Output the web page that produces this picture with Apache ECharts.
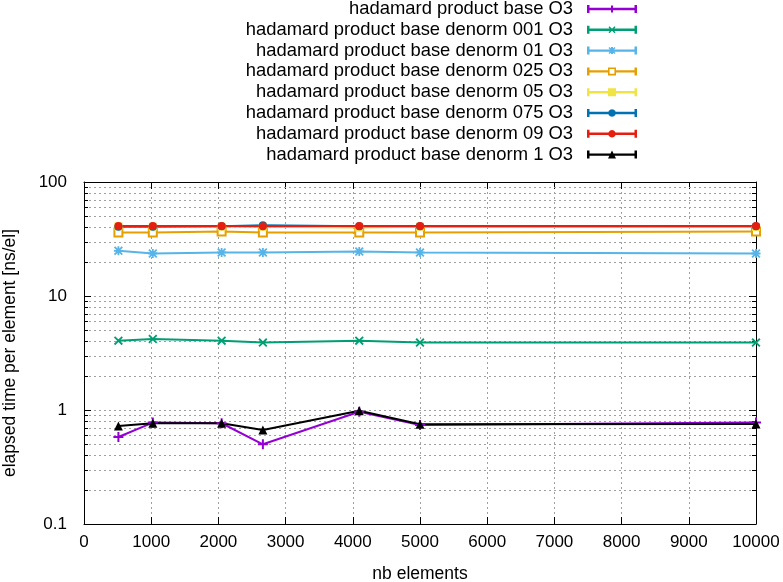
<!DOCTYPE html>
<html><head><meta charset="utf-8">
<script src="https://cdn.jsdelivr.net/npm/echarts@6/dist/echarts.min.js"></script>
<style>html,body{margin:0;padding:0;background:#fff}#c{width:783px;height:582px}</style>
</head><body><div id="c"></div>
<script>
// ---- data ----
const nbElements = [512, 1024, 2048, 2662, 4096, 5000, 10000];
const seriesNames = [
  'hadamard product base O3',
  'hadamard product base denorm 001 O3',
  'hadamard product base denorm 01 O3',
  'hadamard product base denorm 025 O3',
  'hadamard product base denorm 05 O3',
  'hadamard product base denorm 075 O3',
  'hadamard product base denorm 09 O3',
  'hadamard product base denorm 1 O3'
];
const baseO3      = [0.58, 0.775, 0.765, 0.50, 0.965, 0.74, 0.775];
const denorm001O3 = [4.06, 4.2, 4.06, 3.9, 4.06, 3.9, 3.9];
const denorm01O3  = [24.9, 23.6, 24.1, 24.1, 24.6, 24.1, 23.6];
const denorm025O3 = [36.0, 36.0, 36.8, 36.0, 36.0, 36.0, 36.8];
const denorm05O3  = [40.8, 40.5, 40.5, 40.5, 39.8, 40.5, 40.3];
const denorm075O3 = [40.4, 40.4, 41.0, 41.8, 41.0, 41.0, 41.0];
const denorm09O3  = [41.2, 41.2, 41.2, 41.0, 41.2, 41.2, 41.2];
const denorm1O3   = [0.724, 0.764, 0.764, 0.668, 0.986, 0.75, 0.755];
const xTickValues = [0, 1000, 2000, 3000, 4000, 5000, 6000, 7000, 8000, 9000, 10000];
const yMinorValues = [0.2,0.3,0.4,0.5,0.6,0.7,0.8,0.9, 2,3,4,5,6,7,8,9, 20,30,40,50,60,70,80,90];

// ---- styles ----
const FONT = 'Liberation Sans, Arial, sans-serif';
const colors = ['#9400d3','#009e73','#56b4e9','#e69f00','#f0e442','#0072b2','#e51e10','#000000'];
const allValues = [baseO3, denorm001O3, denorm01O3, denorm025O3, denorm05O3, denorm075O3, denorm09O3, denorm1O3];

const P_PLUS = 'M4 0H6V10H4Z M0 4H10V6H0Z';
const P_X = 'M0 1.4L1.4 0L10 8.6L8.6 10Z M8.6 0L10 1.4L1.4 10L0 8.6Z';
const symbols = [
  'path://' + P_PLUS,
  'path://' + P_X,
  'path://' + P_PLUS + ' ' + P_X,
  'emptyRect', 'rect', 'circle', 'circle', 'triangle'
];
const symbolSizes = [10, 9, 9, 8, 8, 8, 8, 9];

function rect(x0, y0, x1, y1) { return `M${x0} ${y0}H${x1}V${y1}H${x0}Z `; }
function rectRev(x0, y0, x1, y1) { return `M${x0} ${y0}V${y1}H${x1}V${y0}Z `; }
function legendIcon(kind) {
  let p = rect(0, 0, 2.5, 8) + rect(47.5, 0, 50, 8);
  const ly0 = 2.8, ly1 = 5.2;
  if (kind === 'esq') {
    p += rect(2.5, ly0, 21, ly1) + rect(29, ly0, 47.5, ly1);
    p += rect(21, 0, 29, 8) + rectRev(22.6, 1.6, 27.4, 6.4);
    return 'path://' + p;
  }
  p += rect(2.5, ly0, 47.5, ly1);
  if (kind === 'plus' || kind === 'star') p += rect(24, 0.5, 26, 7.5);
  if (kind === 'x' || kind === 'star') {
    p += 'M21.5 1.5L22.5 0.5L28.5 6.5L27.5 7.5Z M27.5 0.5L28.5 1.5L22.5 7.5L21.5 6.5Z ';
  }
  if (kind === 'sq') p += rect(21, 0, 29, 8);
  if (kind === 'circ') {
    let s = '';
    for (let k = 0; k < 12; k++) {
      const a = k * Math.PI / 6;
      s += (k === 0 ? 'M' : 'L') + (25 + 3.8 * Math.cos(a)).toFixed(2) + ' ' + (4 + 3.8 * Math.sin(a)).toFixed(2);
    }
    p += s + 'Z ';
  }
  if (kind === 'tri') p += 'M21 8L25 0L29 8Z ';
  return 'path://' + p;
}
const legendKinds = ['plus', 'x', 'star', 'esq', 'sq', 'circ', 'circ', 'tri'];

const series = [{
  type: 'custom',
  coordinateSystem: 'cartesian2d',
  xAxisIndex: 0, yAxisIndex: 0,
  z: 1, silent: true,
  data: yMinorValues.map(v => [0, v]),
  renderItem: function (params, api) {
    const y = Math.round(api.coord([0, api.value(1)])[1]) + 0.5;
    const cs = params.coordSys;
    return {
      type: 'group',
      children: [
        { type: 'line', shape: { x1: cs.x, y1: y, x2: cs.x + cs.width, y2: y },
          style: { stroke: '#a0a0a0', lineWidth: 1, lineDash: [2, 3] } },
        { type: 'line', shape: { x1: cs.x, y1: y, x2: cs.x + 4, y2: y },
          style: { stroke: '#000', lineWidth: 1 } },
        { type: 'line', shape: { x1: cs.x + cs.width - 4, y1: y, x2: cs.x + cs.width, y2: y },
          style: { stroke: '#000', lineWidth: 1 } }
      ]
    };
  }
}];
seriesNames.forEach((name, i) => {
  series.push({
    name: name,
    type: 'line',
    z: 3,
    xAxisIndex: 0, yAxisIndex: 0,
    data: nbElements.map((x, j) => [x, allValues[i][j]]),
    symbol: symbols[i],
    symbolSize: symbolSizes[i],
    showAllSymbol: true,
    lineStyle: { color: colors[i], width: 2 },
    itemStyle: { color: colors[i] },
    emphasis: { disabled: true }
  });
});

const gridLine = { show: true, showMinLine: false, showMaxLine: false, lineStyle: { color: '#a0a0a0', width: 1, type: [2, 3] } };
const axisLine = { show: true, onZero: false, lineStyle: { color: '#000', width: 1 } };

const option = {
  animation: false,
  backgroundColor: '#fff',
  grid: { left: 84, right: 27, top: 182, bottom: 58, containLabel: false, outerBoundsMode: 'none' },
  legend: {
    orient: 'vertical',
    right: 146, top: 0,
    padding: 0,
    align: 'right',
    itemWidth: 50, itemHeight: 8, itemGap: 2.8,
    selectedMode: false,
    itemStyle: { borderWidth: 0 },
    textStyle: { fontFamily: FONT, fontSize: 18.4, lineHeight: 18, color: '#000', padding: [0, 9, 0, 0] },
    data: seriesNames.map((n, i) => ({ name: n, icon: legendIcon(legendKinds[i]) }))
  },
  xAxis: [{
    type: 'value', position: 'bottom', min: 0, max: 10000, interval: 1000,
    axisLine: axisLine,
    axisTick: { show: true, inside: true, length: 7, lineStyle: { color: '#000' } },
    axisLabel: { fontFamily: FONT, fontSize: 17, color: '#000', margin: 10,
      formatter: v => xTickValues.indexOf(v) >= 0 ? String(v) : '' },
    splitLine: gridLine,
    name: 'nb elements', nameLocation: 'middle', nameGap: 41,
    nameTextStyle: { fontFamily: FONT, fontSize: 17.5, color: '#000' }
  }, {
    type: 'value', position: 'top', min: 0, max: 10000, interval: 1000,
    axisLine: axisLine,
    axisTick: { show: true, inside: true, length: 7, lineStyle: { color: '#000' } },
    axisLabel: { show: false }, splitLine: { show: false }
  }],
  yAxis: [{
    type: 'log', logBase: 10, position: 'left', min: 0.1, max: 100,
    axisLine: axisLine,
    axisTick: { show: true, inside: true, length: 7, lineStyle: { color: '#000' } },
    axisLabel: { fontFamily: FONT, fontSize: 17, color: '#000', margin: 17 },
    splitLine: gridLine,
    minorTick: { show: false }, minorSplitLine: { show: false },
    name: 'elapsed time per element [ns/el]', nameLocation: 'middle', nameGap: 65,
    nameTextStyle: { fontFamily: FONT, fontSize: 17.5, color: '#000' }
  }, {
    type: 'log', logBase: 10, position: 'right', min: 0.1, max: 100,
    axisLine: axisLine,
    axisTick: { show: true, inside: true, length: 7, lineStyle: { color: '#000' } },
    axisLabel: { show: false }, splitLine: { show: false }
  }],
  series: series
};
const chart = echarts.init(document.getElementById('c'), null, { renderer: 'canvas' });
chart.setOption(option);
</script></body></html>
